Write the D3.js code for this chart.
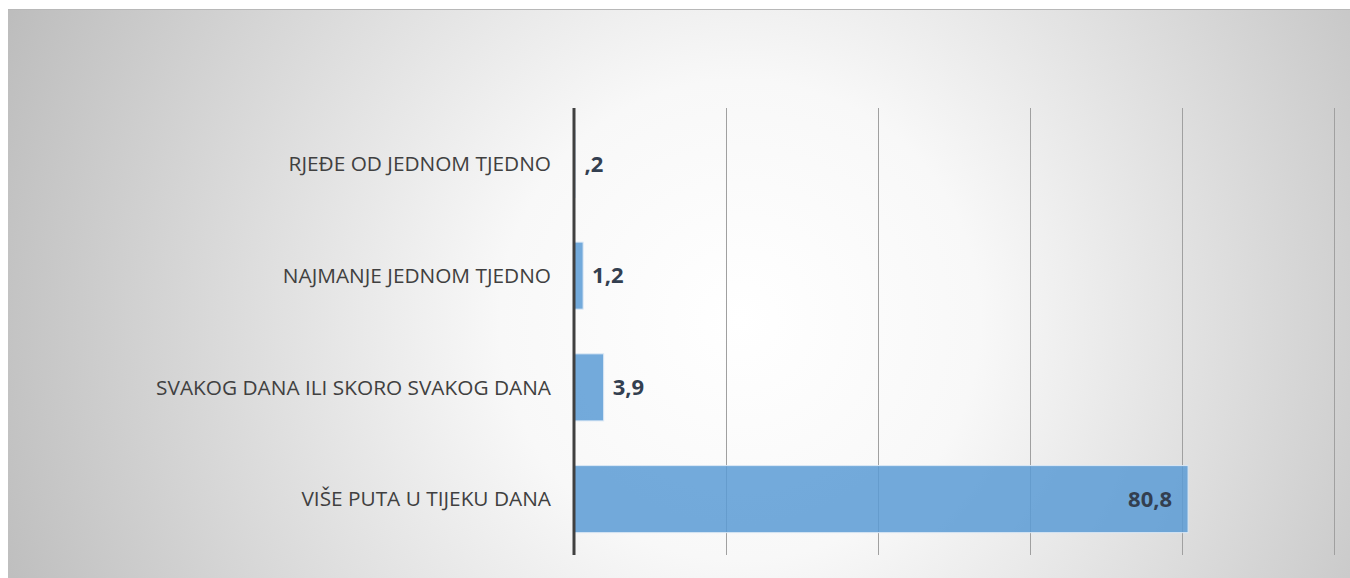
<!DOCTYPE html>
<html lang="hr">
<head>
  <meta charset="UTF-8">
  <title>Učestalost</title>
  <script src="https://d3js.org/d3.v7.min.js"></script>
  <style>
    body { margin: 0; background: white; }
    svg { display: block; }
  </style>
</head>
<body>
  <div id="chart"></div>
  <script>
    const categories = [
      "RJEĐE OD JEDNOM TJEDNO",
      "NAJMANJE JEDNOM TJEDNO",
      "SVAKOG DANA ILI SKORO SVAKOG DANA",
      "VIŠE PUTA U TIJEKU DANA"
    ];
    const values = [0.2, 1.2, 3.9, 80.8];
    const valueLabels = [",2", "1,2", "3,9", "80,8"];
    const xTicks = [0, 20, 40, 60, 80, 100];

    const width = 1350, height = 578;
    const plot = { left: 574, right: 1334, top: 108, bottom: 555 };

    const svg = d3.select("#chart").append("svg")
      .attr("width", width)
      .attr("height", height);

    // background: soft radial gradient like the office chart area
    const grad = svg.append("defs").append("radialGradient")
      .attr("id", "bg")
      .attr("gradientUnits", "userSpaceOnUse")
      .attr("cx", 740).attr("cy", 320).attr("r", 800);
    grad.append("stop").attr("offset", "0%").attr("stop-color", "#ffffff");
    grad.append("stop").attr("offset", "30%").attr("stop-color", "#f8f8f8");
    grad.append("stop").attr("offset", "100%").attr("stop-color", "#bcbcbc");

    svg.append("rect")
      .attr("x", 8).attr("y", 9)
      .attr("width", width - 8).attr("height", height - 9)
      .attr("fill", "url(#bg)");
    svg.append("line")
      .attr("x1", 8).attr("x2", width).attr("y1", 9.5).attr("y2", 9.5)
      .attr("stroke", "#b8b8b8");

    const x = d3.scaleLinear().domain([0, 100]).range([plot.left, plot.right]);
    const y = d3.scaleBand().domain(categories)
      .range([plot.top, plot.bottom])
      .paddingInner(0.4).paddingOuter(0.2);

    // gridlines
    svg.append("g").selectAll("line")
      .data(xTicks.slice(1))
      .join("line")
      .attr("x1", d => Math.round(x(d)) + 0.5)
      .attr("x2", d => Math.round(x(d)) + 0.5)
      .attr("y1", plot.top).attr("y2", plot.bottom)
      .attr("stroke", "#a0a0a0")
      .attr("stroke-width", 1);

    // bars
    svg.append("g").selectAll("rect")
      .data(values)
      .join("rect")
      .attr("x", x(0))
      .attr("y", (d, i) => y(categories[i]))
      .attr("width", d => x(d) - x(0))
      .attr("height", y.bandwidth())
      .attr("fill", "#5b9bd5")
      .attr("fill-opacity", 0.85)
      .attr("stroke", "#dbe8f5")
      .attr("stroke-width", 1);

    // axis line
    svg.append("line")
      .attr("x1", x(0)).attr("x2", x(0))
      .attr("y1", plot.top).attr("y2", plot.bottom)
      .attr("stroke", "#404040")
      .attr("stroke-width", 3);

    // category labels
    svg.append("g").selectAll("text")
      .data(categories)
      .join("text")
      .attr("x", plot.left - 23)
      .attr("y", d => y(d) + y.bandwidth() / 2)
      .attr("dy", "0.35em")
      .attr("text-anchor", "end")
      .attr("font-family", "'Open Sans', 'Liberation Sans', sans-serif")
      .attr("font-size", 20.8)
      .attr("fill", "#404040")
      .text(d => d);

    // value labels
    svg.append("g").selectAll("text")
      .data(values)
      .join("text")
      .attr("x", (d, i) => d > 50 ? x(d) - 16 : x(d) + 9)
      .attr("y", (d, i) => y(categories[i]) + y.bandwidth() / 2)
      .attr("dy", "0.35em")
      .attr("text-anchor", d => d > 50 ? "end" : "start")
      .attr("font-family", "'Open Sans', 'Liberation Sans', sans-serif")
      .attr("font-size", 22)
      .attr("font-weight", "bold")
      .attr("fill", "#333f50")
      .text((d, i) => valueLabels[i]);
  </script>
</body>
</html>
